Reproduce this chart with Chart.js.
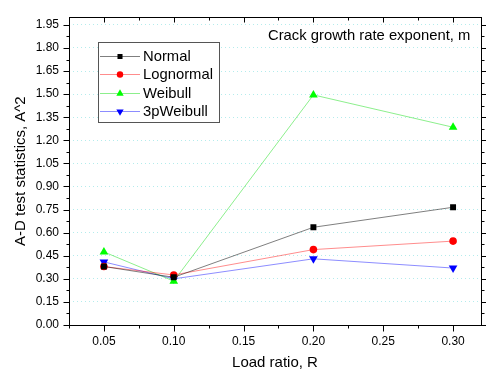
<!DOCTYPE html>
<html>
<head>
<meta charset="utf-8">
<script src="https://cdn.jsdelivr.net/npm/chart.js@4.4.0/dist/chart.umd.min.js"></script>
<style>
  html, body { margin: 0; padding: 0; background: #fff; }
  canvas { display: block; }
</style>
</head>
<body>
<canvas id="chart" width="486" height="372"></canvas>
<script>
  // Data
  const loadRatio = [0.05, 0.10, 0.20, 0.30];
  const normalA2 = [0.38, 0.31, 0.635, 0.765];
  const lognormalA2 = [0.38, 0.325, 0.49, 0.545];
  const weibullA2 = [0.475, 0.285, 1.495, 1.285];
  const weibull3pA2 = [0.41, 0.30, 0.43, 0.37];

  const xTickValues = [0.05, 0.10, 0.15, 0.20, 0.25, 0.30];
  const yTickValues = [0, 0.15, 0.30, 0.45, 0.60, 0.75, 0.90, 1.05, 1.20, 1.35, 1.50, 1.65, 1.80, 1.95];

  const FONT = "'Liberation Sans', Arial, sans-serif";

  function toPoints(ys) {
    return loadRatio.map(function (x, i) { return { x: x, y: ys[i] }; });
  }

  function series(label, ys, line, marker, style, radius, rotation) {
    return {
      label: label,
      data: toPoints(ys),
      showLine: true,
      borderColor: line,
      borderWidth: 1,
      backgroundColor: marker,
      pointBackgroundColor: marker,
      pointBorderColor: marker,
      pointBorderWidth: 0,
      pointStyle: style,
      pointRadius: radius,
      pointRotation: rotation || 0,
      tension: 0,
    };
  }

  const datasets = [
    series("Normal", normalA2, "rgba(0,0,0,0.5)", "#000000", "rect", 4.2),
    series("Lognormal", lognormalA2, "rgba(255,0,0,0.45)", "#ff0000", "circle", 3.8),
    series("Weibull", weibullA2, "rgba(0,220,0,0.45)", "#00ff00", "triangle", 5),
    series("3pWeibull", weibull3pA2, "rgba(0,0,255,0.45)", "#0000ff", "triangle", 5, 180),
  ];

  function marker(ctx, style, rot, x, y, r, color) {
    ctx.save();
    ctx.fillStyle = color;
    ctx.beginPath();
    if (style === "rect") {
      const s = r * Math.SQRT2 / 2;
      ctx.rect(x - s, y - s, 2 * s, 2 * s);
    } else if (style === "circle") {
      ctx.arc(x, y, r, 0, Math.PI * 2);
    } else {
      const d = rot === 180 ? -1 : 1;
      ctx.moveTo(x, y - d * r);
      ctx.lineTo(x + r * 0.866, y + d * r * 0.5);
      ctx.lineTo(x - r * 0.866, y + d * r * 0.5);
      ctx.closePath();
    }
    ctx.fill();
    ctx.restore();
  }

  // Frame, mirrored ticks, minor ticks, legend box and title
  const decorations = {
    id: "decorations",
    afterDraw(chart) {
      const ctx = chart.ctx;
      const a = chart.chartArea;
      const xs = chart.scales.x;
      const ys = chart.scales.y;
      const L = Math.round(a.left) + 0.5, R = Math.round(a.right) + 0.5;
      const T = Math.round(a.top) + 0.5, B = Math.round(a.bottom) + 0.5;

      ctx.save();
      ctx.strokeStyle = "#000";
      ctx.lineWidth = 1;
      ctx.strokeRect(L, T, R - L, B - T);

      ctx.beginPath();
      // x ticks
      for (let v = 0.025; v <= xs.max + 1e-9; v += 0.025) {
        if (v < xs.min - 1e-9) continue;
        const major = Math.abs(Math.round(v / 0.05) * 0.05 - v) < 1e-6;
        const px = Math.round(xs.getPixelForValue(v)) + 0.5;
        ctx.moveTo(px, B); ctx.lineTo(px, B + (major ? 6 : 3));
        ctx.moveTo(px, T); ctx.lineTo(px, T + (major ? 5 : 3));
      }
      // y ticks
      for (let k = 0; k <= 27; k++) {
        const v = k * 0.075;
        if (v > ys.max + 1e-9) break;
        const major = k % 2 === 0;
        const py = Math.round(ys.getPixelForValue(v)) + 0.5;
        ctx.moveTo(L, py); ctx.lineTo(L - (major ? 6 : 3), py);
        ctx.moveTo(R, py); ctx.lineTo(R + (major ? 5 : 3), py);
      }
      ctx.stroke();

      // title inside the plot
      ctx.fillStyle = "#000";
      ctx.font = "14.8px " + FONT;
      ctx.textBaseline = "middle";
      ctx.textAlign = "left";
      ctx.fillText("Crack growth rate exponent, m", 268, 36);

      // legend
      ctx.fillStyle = "#fff";
      ctx.fillRect(98.5, 42.5, 121, 80);
      ctx.strokeStyle = "#555";
      ctx.strokeRect(98.5, 42.5, 121, 80);
      chart.data.datasets.forEach(function (ds, i) {
        const y = 56 + i * 18.4;
        ctx.strokeStyle = ds.borderColor;
        ctx.beginPath();
        ctx.moveTo(100, Math.round(y) + 0.5);
        ctx.lineTo(140, Math.round(y) + 0.5);
        ctx.stroke();
        marker(ctx, ds.pointStyle, ds.pointRotation, 120, Math.round(y) + 0.5, ds.pointRadius * 0.85, ds.pointBackgroundColor);
        ctx.fillStyle = "#000";
        ctx.font = "14.8px " + FONT;
        ctx.fillText(ds.label, 143, y + 1);
      });
      ctx.restore();
    },
  };

  new Chart(document.getElementById("chart").getContext("2d"), {
    type: "scatter",
    data: { datasets: datasets },
    options: {
      responsive: false,
      animation: false,
      events: [],
      layout: { padding: { top: 12, right: 4, left: 0, bottom: 0 } },
      plugins: { legend: { display: false }, tooltip: { enabled: false } },
      scales: {
        x: {
          type: "linear",
          min: 0.025,
          max: 0.32,
          afterBuildTicks: function (scale) {
            scale.ticks = xTickValues.map(function (v) { return { value: v }; });
          },
          afterFit: function (scale) { scale.height = 47; },
          grid: { display: false, drawTicks: false },
          border: { display: false },
          ticks: {
            color: "#000",
            padding: 9,
            font: { family: FONT, size: 12 },
            callback: function (v) { return v.toFixed(2); },
          },
          title: {
            display: true,
            text: "Load ratio, R",
            color: "#000",
            font: { family: FONT, size: 15 },
            padding: { top: 0, bottom: 0 },
          },
        },
        y: {
          type: "linear",
          min: 0,
          max: 2.0,
          afterBuildTicks: function (scale) {
            scale.ticks = yTickValues.map(function (v) { return { value: v }; });
          },
          afterFit: function (scale) { scale.width = 69; },
          grid: { color: "#b4ecec", lineWidth: 1, drawTicks: false },
          border: { display: false, dash: [1, 3] },
          ticks: {
            color: "#000",
            padding: 10,
            font: { family: FONT, size: 12 },
            callback: function (v) { return v.toFixed(2); },
          },
          title: {
            display: true,
            text: "A-D test statistics, A^2",
            color: "#000",
            font: { family: FONT, size: 15 },
            padding: { top: 12, bottom: 0 },
          },
        },
      },
    },
    plugins: [decorations],
  });
</script>
</body>
</html>
